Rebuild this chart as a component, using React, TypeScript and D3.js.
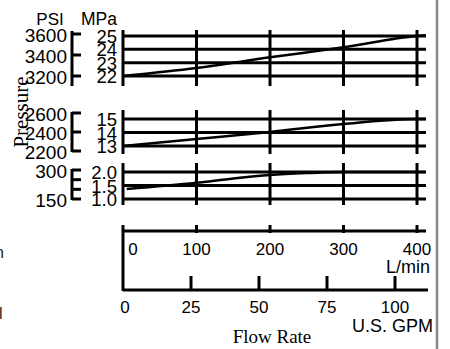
import React from 'react';
import * as d3 from 'd3';

// ---- data ----
const lminTicks = [0, 100, 200, 300, 400];
const gpmTicks = [0, 25, 50, 75, 100];
const gridFlow = [0, 100, 200, 300, 400];

const panel1Mpa = [22, 23, 24, 25];
const panel1Psi = [3200, 3400, 3600];
const panel2Mpa = [13, 14, 15];
const panel2Psi = [2200, 2400, 2600];
const panel3Mpa = [1.0, 1.5, 2.0];
const panel3PsiTicks = [150, 200, 250, 300];
const panel3PsiLabels = [150, 300];

const curveFlow1 = [0, 100, 200, 300, 400, 412];
const curveMpa1 = [22.0, 22.6, 23.4, 24.15, 25.0, 25.05];
const curveFlow2 = [0, 100, 200, 300, 400, 412];
const curveMpa2 = [13.0, 13.52, 14.04, 14.63, 15.0, 15.0];
const curveFlow3 = [5, 100, 150, 200, 250, 300, 400, 412];
const curveMpa3 = [1.37, 1.6, 1.76, 1.89, 1.96, 2.0, 2.0, 2.0];

const SANS = '"Liberation Sans", Arial, sans-serif';
const SERIF = '"Liberation Serif", "Times New Roman", serif';

export default function App() {
  const x = d3.scaleLinear().domain([0, 400]).range([123, 417]);
  const xg = d3.scaleLinear().domain([0, 100]).range([123, 395]);
  const xEnd = 426;

  const panels = [
    {
      mpa: panel1Mpa, mpaFmt: d3.format('d'),
      y: d3.scaleLinear().domain([22, 25]).range([76, 36]),
      psiTicks: panel1Psi, psiLabels: panel1Psi,
      psi: d3.scaleLinear().domain([3200, 3600]).range([76, 34]),
      psiBracket: [31, 86], vTop: 30, vBot: 86,
      flow: curveFlow1, vals: curveMpa1,
    },
    {
      mpa: panel2Mpa, mpaFmt: d3.format('d'),
      y: d3.scaleLinear().domain([13, 15]).range([146, 119]),
      psiTicks: panel2Psi, psiLabels: panel2Psi,
      psi: d3.scaleLinear().domain([2200, 2600]).range([151, 113]),
      psiBracket: [112, 152], vTop: 110, vBot: 154,
      flow: curveFlow2, vals: curveMpa2,
    },
    {
      mpa: panel3Mpa, mpaFmt: d3.format('.1f'),
      y: d3.scaleLinear().domain([1, 2]).range([199, 172]),
      psiTicks: panel3PsiTicks, psiLabels: panel3PsiLabels,
      psi: d3.scaleLinear().domain([150, 300]).range([199, 170]),
      psiBracket: [169, 200], vTop: 163, vBot: 205,
      flow: curveFlow3, vals: curveMpa3,
    },
  ];

  const lw = 3;

  return (
    <svg width={450} height={349} style={{ position: 'absolute', left: 0, top: 0, background: '#fff' }}>
      <rect x={0} y={0} width={450} height={349} fill="#fff" />
      {/* right border */}
      <line x1={437} x2={437} y1={0} y2={349} stroke="#888" strokeWidth={2.5} />
      {/* stray clipped text at left edge */}
      <text x={4} y={258} textAnchor="end" fontFamily={SANS} fontSize={16} fill="#222">n</text>
      <text x={2.5} y={319} textAnchor="end" fontFamily={SANS} fontSize={16} fill="#222">l</text>

      {/* header */}
      <text x={50} y={25} textAnchor="middle" fontFamily={SANS} fontSize={17}>PSI</text>
      <text x={99} y={25} textAnchor="middle" fontFamily={SANS} fontSize={17.5}>MPa</text>

      {panels.map((p, i) => {
        const line = d3.line<number>()
          .x((_, k) => x(p.flow[k]))
          .y((v) => p.y(v))
          .curve(d3.curveMonotoneX);
        return (
          <g key={i}>
            {p.mpa.map((m) => (
              <line key={'h' + m} x1={x(0)} x2={xEnd} y1={p.y(m)} y2={p.y(m)} stroke="#000" strokeWidth={lw} />
            ))}
            {gridFlow.map((f) => (
              <line key={'v' + f} x1={x(f)} x2={x(f)} y1={p.vTop} y2={p.vBot} stroke="#000" strokeWidth={lw} />
            ))}
            {p.mpa.map((m) => (
              <text key={'l' + m} x={117} y={p.y(m) + 7} textAnchor="end" fontFamily={SANS} fontSize={18.5}>
                {p.mpaFmt(m)}
              </text>
            ))}
            <line x1={72} x2={72} y1={p.psiBracket[0]} y2={p.psiBracket[1]} stroke="#000" strokeWidth={lw} />
            {p.psiTicks.map((t) => (
              <line key={'t' + t} x1={72} x2={81} y1={p.psi(t)} y2={p.psi(t)} stroke="#000" strokeWidth={lw} />
            ))}
            {p.psiLabels.map((t) => (
              <text key={'p' + t} x={67} y={p.psi(t) + 8} textAnchor="end" fontFamily={SANS} fontSize={19}>
                {t}
              </text>
            ))}
            <path d={line(p.vals) || ''} fill="none" stroke="#000" strokeWidth={2.5} />
          </g>
        );
      })}

      {/* Pressure label */}
      <text transform="translate(28,112) rotate(-90)" textAnchor="middle" fontFamily={SERIF} fontSize={21}>Pressure</text>

      {/* L/min axis */}
      <line x1={x(0)} x2={xEnd} y1={231} y2={231} stroke="#000" strokeWidth={lw} />
      <line x1={x(0)} x2={x(0)} y1={225} y2={291} stroke="#000" strokeWidth={lw} />
      {lminTicks.filter((t) => t > 0).map((t) => (
        <line key={'lt' + t} x1={x(t)} x2={x(t)} y1={225} y2={233} stroke="#000" strokeWidth={lw} />
      ))}
      {lminTicks.map((t) => (
        <text key={'ll' + t} x={t === 0 ? x(t) + 10 : x(t)} y={255} textAnchor="middle" fontFamily={SANS} fontSize={17}>
          {t}
        </text>
      ))}
      <text x={430} y={273} textAnchor="end" fontFamily={SANS} fontSize={18}>L/min</text>

      {/* GPM axis */}
      <line x1={xg(0)} x2={428} y1={290} y2={290} stroke="#000" strokeWidth={lw} />
      {gpmTicks.filter((t) => t > 0).map((t) => (
        <line key={'gt' + t} x1={xg(t)} x2={xg(t)} y1={276} y2={290} stroke="#000" strokeWidth={lw} />
      ))}
      {gpmTicks.map((t) => (
        <text key={'gl' + t} x={t === 0 ? xg(t) + 2 : xg(t)} y={313} textAnchor="middle" fontFamily={SANS} fontSize={17}>
          {t}
        </text>
      ))}
      <text x={433} y={332} textAnchor="end" fontFamily={SANS} fontSize={18}>U.S. GPM</text>
      <text x={272} y={343} textAnchor="middle" fontFamily={SERIF} fontSize={19}>Flow Rate</text>
    </svg>
  );
}
